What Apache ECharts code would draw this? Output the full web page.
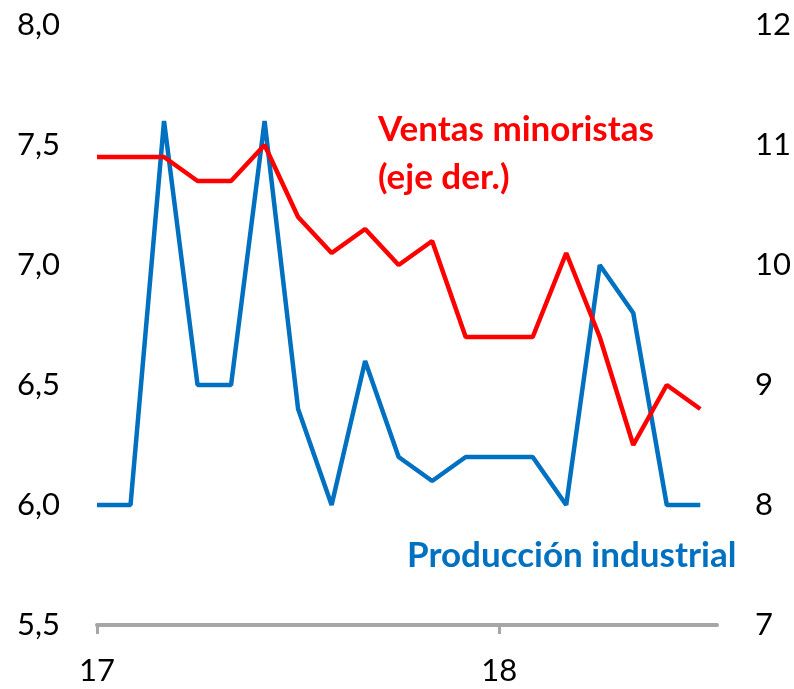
<!DOCTYPE html>
<html>
<head>
<meta charset="utf-8">
<script src="https://cdn.jsdelivr.net/npm/echarts@6/dist/echarts.min.js"></script>
<style>
  html, body { margin: 0; padding: 0; background: #fff; }
  #chart { width: 794px; height: 689px; }
</style>
</head>
<body>
<div id="chart"></div>
<script>
  // meses ene-17 .. jul-18
  var months = ['ene-17', 'feb-17', 'mar-17', 'abr-17', 'may-17', 'jun-17', 'jul-17', 'ago-17',
    'sep-17', 'oct-17', 'nov-17', 'dic-17', 'ene-18', 'feb-18', 'mar-18', 'abr-18', 'may-18',
    'jun-18', 'jul-18'];
  // Producción industrial (eje izq.)
  var produccion = [6.0, 6.0, 7.6, 6.5, 6.5, 7.6, 6.4, 6.0, 6.6, 6.2, 6.1, 6.2, 6.2, 6.2, 6.0,
    7.0, 6.8, 6.0, 6.0];
  // Ventas minoristas (eje der.)
  var ventas = [10.9, 10.9, 10.9, 10.7, 10.7, 11.0, 10.4, 10.1, 10.3, 10.0, 10.2, 9.4, 9.4, 9.4,
    10.1, 9.4, 8.5, 9.0, 8.8];
  // etiquetas del eje x
  var yearTicks = [0, 12];
  var yearLabels = ['17', '18'];

  var font = 'Lato, "Open Sans", sans-serif';

  function pairs(arr) {
    return arr.map(function (v, i) { return [i, v]; });
  }

  var chart = echarts.init(document.getElementById('chart'));
  chart.setOption({
    animation: false,
    grid: { left: 97, right: 75, top: 25, bottom: 64 },
    xAxis: {
      type: 'value',
      min: 0,
      max: 18.5,
      splitLine: { show: false },
      axisLine: { show: true, onZero: false, lineStyle: { color: '#A6A6A6', width: 4 } },
      axisTick: { show: true, customValues: yearTicks, length: 9, lineStyle: { color: '#A6A6A6', width: 3 } },
      axisLabel: {
        customValues: yearTicks,
        margin: 30,
        fontSize: 31,
        fontFamily: font,
        color: '#000',
        formatter: function (v) {
          var k = yearTicks.indexOf(v);
          return k >= 0 ? yearLabels[k] : '';
        }
      }
    },
    yAxis: [
      {
        type: 'value', min: 5.5, max: 8, interval: 0.5,
        splitLine: { show: false }, axisLine: { show: false }, axisTick: { show: false },
        axisLabel: {
          margin: 37, fontSize: 31, fontFamily: font, color: '#000',
          formatter: function (v) { return v.toFixed(1).replace('.', ','); }
        }
      },
      {
        type: 'value', min: 7, max: 12, interval: 1,
        splitLine: { show: false }, axisLine: { show: false }, axisTick: { show: false },
        axisLabel: { margin: 38, fontSize: 31, fontFamily: font, color: '#000' }
      }
    ],
    series: [
      {
        name: 'Producción industrial', type: 'line', yAxisIndex: 0,
        data: pairs(produccion), showSymbol: false,
        lineStyle: { color: '#0070C0', width: 4.5 }
      },
      {
        name: 'Ventas minoristas', type: 'line', yAxisIndex: 1,
        data: pairs(ventas), showSymbol: false,
        lineStyle: { color: '#FF0000', width: 4.5 }
      }
    ],
    graphic: [
      {
        type: 'text', left: 378, top: 106,
        style: { text: 'Ventas minoristas\n(eje der.)', fill: '#FF0000', fontSize: 35, fontWeight: 'bold',
          fontFamily: font, lineHeight: 48 }
      },
      {
        type: 'text', left: 407, top: 538,
        style: { text: 'Producción industrial', fill: '#0070C0', fontSize: 35, fontWeight: 'bold',
          fontFamily: font }
      }
    ]
  });
</script>
</body>
</html>
